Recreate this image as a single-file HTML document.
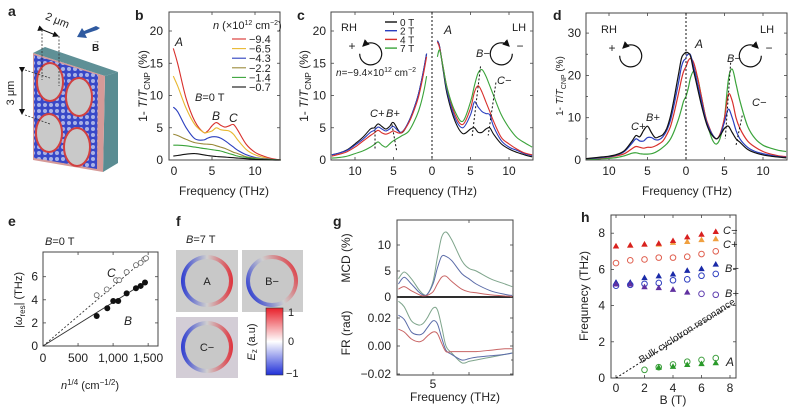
<!DOCTYPE html>
<html><head><meta charset="utf-8"><style>
html,body{margin:0;padding:0;background:#fff}
svg{display:block;font-family:"Liberation Sans",sans-serif}
text{fill:#222}
</style></head><body>
<svg id="fig" width="788" height="407" viewBox="0 0 788 407" xmlns="http://www.w3.org/2000/svg">
<defs>
<pattern id="mesh" width="6" height="6" patternUnits="userSpaceOnUse">
<rect width="6" height="6" fill="#3848c8"/><circle cx="3" cy="3" r="2" fill="#a9b2e6"/>
</pattern>
<linearGradient id="gA" x1="0" x2="1" y1="0" y2="0"><stop offset="0" stop-color="#1a2bd0"/><stop offset="0.5" stop-color="#cfcfcf"/><stop offset="1" stop-color="#e0202a"/></linearGradient>
<linearGradient id="gB" x1="0" x2="1" y1="0.7" y2="0.2"><stop offset="0" stop-color="#1a2bd0"/><stop offset="0.5" stop-color="#cfcfcf"/><stop offset="1" stop-color="#e0202a"/></linearGradient>
<linearGradient id="gCB" x1="0" x2="0" y1="0" y2="1"><stop offset="0" stop-color="#e8202a"/><stop offset="0.5" stop-color="#ffffff"/><stop offset="1" stop-color="#2030d8"/></linearGradient>
<radialGradient id="bgA" cx="0.5" cy="0.5" r="0.6"><stop offset="0.5" stop-color="#c4c4d4"/><stop offset="1" stop-color="#d2cfd2"/></radialGradient>
<marker id="ah" markerWidth="6" markerHeight="6" refX="5" refY="3" orient="auto"><path d="M0,0 L6,3 L0,6 z" fill="#111"/></marker>
</defs>

<!-- panel a -->
<g>
<text x="8" y="16" font-size="14" font-weight="bold">a</text>
<polygon points="33,53 45,47 118,72 105,76" fill="#5f9096"/>
<polygon points="105,76 118,72 118,163 103,172" fill="#5a8c92"/>
<polygon points="33,53 105,76 103,172 33,160" fill="#d59a98"/>
<polygon points="34,55 98,75 97,169 34,158" fill="url(#mesh)"/>
<ellipse cx="50" cy="82" rx="13" ry="19" fill="#c9c9c9" stroke="#d24040" stroke-width="2"/>
<ellipse cx="79" cy="97" rx="13" ry="19" fill="#c9c9c9" stroke="#d24040" stroke-width="2"/>
<ellipse cx="49" cy="133" rx="13" ry="19" fill="#c9c9c9" stroke="#d24040" stroke-width="2"/>
<ellipse cx="77" cy="147" rx="13" ry="19" fill="#c9c9c9" stroke="#d24040" stroke-width="2"/>
<path d="M42,30 L42,80 M59,36 L59,86 M25,70 L50,78 M25,115 L50,124" stroke="#333" stroke-width="0.8" stroke-dasharray="2,1.5" fill="none"/>
<line x1="43" y1="30" x2="58" y2="36" stroke="#111" stroke-width="1" marker-end="url(#ah)" marker-start="url(#ah)"/>
<text x="44" y="22" font-size="11" transform="rotate(22 52 22)">2 μm</text>
<line x1="22" y1="72" x2="22" y2="114" stroke="#111" stroke-width="1" marker-end="url(#ah)" marker-start="url(#ah)"/>
<text x="14" y="93" font-size="11" text-anchor="middle" transform="rotate(-90 14 93)">3 μm</text>
<polygon points="100,28 96,26 84,31 82,28 77,37 87,38 85,34 97,30" fill="#2f5aa0"/>
<text x="92" y="51" font-size="10" font-weight="bold">B</text>
<text x="93" y="43" font-size="7">→</text>
</g>

<!-- panel f -->
<g>
<text x="176" y="226" font-size="14" font-weight="bold">f</text>
<text x="186" y="243" font-size="11"><tspan font-style="italic">B</tspan>=7 T</text>
<rect x="176" y="250" width="62" height="62" fill="#cdcdcd"/>
<circle cx="207" cy="281" r="26" fill="url(#gA)" opacity="0.9"/><circle cx="207" cy="281" r="22" fill="#c8c8c8"/>
<text x="207" y="285" font-size="11" text-anchor="middle">A</text>
<rect x="242" y="250" width="61" height="62" fill="#cdcdcd"/>
<circle cx="272" cy="281" r="26" fill="url(#gB)" opacity="0.9"/><circle cx="272" cy="281" r="22" fill="#c8c8c8"/>
<text x="272" y="285" font-size="11" text-anchor="middle">B−</text>
<rect x="176" y="317" width="62" height="61" fill="#d3cdd6"/>
<circle cx="207" cy="347" r="26" fill="url(#gA)" opacity="0.9"/><circle cx="207" cy="347" r="22" fill="#c8c8c8"/>
<text x="207" y="351" font-size="11" text-anchor="middle">C−</text>
<rect x="266" y="308" width="17" height="67" fill="url(#gCB)" stroke="#333" stroke-width="0.6"/>
<text x="288" y="316" font-size="11">1</text><text x="288" y="345" font-size="11">0</text><text x="286" y="377" font-size="11">−1</text>
<text x="255" y="342" font-size="11" text-anchor="middle" transform="rotate(-90 255 342)"><tspan font-style="italic">E</tspan><tspan font-size="8" dy="2">z</tspan><tspan dy="-2"> (a.u)</tspan></text>
</g>

<g id="plots"></g>
</svg>
<script>
// ---------- data ----------
const bFreq=[0.5,1,2,3,4,4.5,5,5.5,6,6.5,7,7.5,8,9,10,11,12,13];
const bRed=[17.3,15,9.5,6,4.3,4.5,5.3,5.8,5.4,5.1,5.3,5.5,4.6,2.4,1.2,0.6,0.2,0];
const bYellow=[13,11.5,8,5.5,4.3,4.3,4.5,5,4.7,4.6,4.5,4,3.1,1.6,0.8,0.4,0.1,0];
const bBlue=[8.2,7.5,5,3.3,3.1,3.4,3.6,3.6,3.4,3,2.5,2,1.5,0.8,0.4,0.2,0.1,0];
const bOlive=[4,3.8,3.2,2.7,2.5,2.45,2.4,2.2,2,1.8,1.5,1.2,1,0.5,0.3,0.15,0.05,0];
const bGreen=[2.3,2.3,2.2,2,1.8,1.7,1.6,1.5,1.4,1.2,1,0.8,0.6,0.4,0.2,0.1,0.05,0];
const bBlack=[0.6,0.7,0.9,1,0.8,0.7,0.6,0.55,0.5,0.45,0.4,0.35,0.3,0.2,0.1,0.05,0,0];
const bLegend=["−9.4","−6.5","−4.3","−2.2","−1.4","−0.7"];

const cFreq=[0.7,1,1.5,2,3,4,5,5.5,6,6.5,7,7.5,8,9,10,11,12,13];
const cBlackL=[16.5,14.5,11.5,9.2,6,4.2,5.8,5.2,4.8,5.2,5.6,5,4.8,3.5,2.5,1.6,1.1,0.8];
const cBlueL=[16.5,14.5,11.5,9.2,6,4.3,5.2,4.8,4.5,4.8,5.1,4.6,4.3,3.2,2.3,1.5,1.1,0.8];
const cRedL=[16,14,11,8.8,5.8,4.2,4.5,4.2,4,4.2,4.6,4.2,3.8,2.9,2,1.3,0.9,0.6];
const cGreenL=[13,11,8.5,6.8,4.5,3.7,3,2.5,2,2.3,2.8,2.4,2,1.4,1,0.6,0.4,0.3];
const cBlackR=[18.5,17.5,13.5,10,6,4.1,4.8,5,4.3,4.3,4.8,5,4,2.5,1.7,1.2,0.8,0.5];
const cBlueR=[18.5,17.5,13.8,10.5,6.5,5,7,9,8.2,7.5,7.2,7,5.2,3,2,1.5,1,0.7];
const cRedR=[18.3,17.3,14,11,7,5.5,8,10.5,11.5,10.5,9,7.5,6,3.5,2.5,1.7,1.1,0.8];
const cGreenR=[16,17,14,11,7.5,6,9,11.5,13.5,14,13,11.5,10,7,5,3.5,2.7,2];
const cLegend=["0 T","2 T","4 T","7 T"];

const dFreq=[0,0.3,0.6,1,1.5,2,2.5,3,3.5,4,4.5,5,5.5,6,6.5,7,8,9,10,11,12,13];
const dBlackR=[25.5,25.3,24.5,21,17,13,9.5,7,5.6,5,6,7.5,8,6.5,5,4.2,2.5,1.7,1.2,0.9,0.7,0.5];
const dBlackL=[25.5,25,24,20,15,10.5,7.5,6,5.5,5.3,6.5,8,7,5.5,5.8,4.5,2.2,1.3,0.9,0.7,0.5,0.3];
const dBlueR=[24.5,25,24.8,22,18,14,10,7.5,5.8,5,6.2,9,12,10,7,5,3,2,1.5,1.1,0.8,0.6];
const dBlueL=[24,23.5,22,18,13.5,9.5,7,5.5,4.8,4.8,5.3,5.3,4.5,4.5,5,4,2,1.2,0.8,0.6,0.4,0.3];
const dRedR=[22,23.5,24,23,19.5,15,10.5,7.8,5.8,5,6.5,10,15.5,14,10,7.5,4.5,3,2,1.4,1,0.8];
const dRedL=[22,21,19,15.5,11.5,8,6,4.5,3.8,3.3,3,3,2.8,3,3.2,2.7,1.5,1,0.7,0.5,0.4,0.3];
const dGreenR=[15,17,19.5,21,19.5,15,10.5,7,4.5,3.8,5.5,10,19,21.5,18,14,8,5,3.5,2.8,2.3,2];
const dGreenL=[15,14,12,9.5,7,5,3.8,3,2.3,1.8,1.5,1.4,1.4,1.5,1.7,1.6,1,0.6,0.4,0.3,0.2,0.2];

const eBx=[766,917,1002,1073,1193,1326,1393,1455];
const eBy=[2.6,3.27,3.9,3.9,4.56,5.0,5.2,5.5];
const eCx=[766,909,1041,1088,1193,1326,1393,1445,1469];
const eCy=[4.4,4.9,5.7,5.7,6.4,7.0,7.2,7.5,7.6];
const eXTicks=[0,500,1000,1500];
const eXLabels=["0","500","1,000","1,500"];
const eYTicks=[0,2,4,6];

const gFreq=[2.6,3,3.5,4,4.3,4.6,5,5.3,5.6,5.9,6.3,7,7.5,8,9,10,10.5];
const gMcdGreen=[3.5,4.8,3.5,1.5,0.6,0.5,3,7.5,11.5,12.5,11,7,5.5,5,3.5,2.5,2];
const gMcdBlue=[2.5,3.8,2.5,1,0.4,0.5,2.5,5.5,7.8,7.8,7,4.5,3.5,2.5,1.2,0.5,0.3];
const gMcdRed=[1.5,2,1.2,0.5,0.2,0.3,1,2.5,3.8,4,3,1.5,1,0.8,0.4,0.2,0.1];
const gFrGreen=[0.032,0.028,0.018,0.015,0.016,0.020,0.027,0.026,0.014,0.000,-0.005,-0.012,-0.011,-0.010,-0.008,-0.006,-0.005];
const gFrBlue=[0.022,0.019,0.010,0.008,0.009,0.013,0.018,0.016,0.006,-0.003,-0.006,-0.010,-0.009,-0.008,-0.007,-0.006,-0.005];
const gFrRed=[0.012,0.010,0.005,0.003,0.004,0.007,0.010,0.009,0.002,-0.004,-0.004,-0.004,-0.004,-0.004,-0.003,-0.002,-0.002];

const hB=[0,1,2,3,4,5,6,7];
const hCminus=[7.3,7.35,7.4,7.45,7.6,7.8,7.95,8.1];
const hCplus=[7.3,7.35,7.4,7.4,7.5,7.55,7.65,7.7];
const hRedOpen=[6.35,6.5,6.55,6.65,6.65,6.7,6.85,7.0];
const hBminus=[5.3,5.3,5.55,5.65,5.75,5.95,6.05,6.3];
const hBplus=[5.1,5.15,5.2,5.25,5.4,5.45,5.65,5.75];
const hPurpleB=[0,1,2,3,4,5];
const hPurpleTri=[5.2,5.2,5.05,5.0,4.9,4.75];
const hPurpleOpenB=[6,7];
const hPurpleOpen=[4.65,4.6];
const hAopenB=[2,3,4,5,6,7];
const hAopen=[0.45,0.6,0.75,0.9,1.0,1.1];
const hAtriB=[3,4,5,6,7];
const hAtri=[0.6,0.65,0.75,0.8,0.85];

// ---------- helpers ----------
const NS="http://www.w3.org/2000/svg";
const root=document.getElementById('plots');
function el(tag,attrs,parent){const e=document.createElementNS(NS,tag);for(const k in attrs)e.setAttribute(k,attrs[k]);(parent||root).appendChild(e);return e;}
function smooth(pts){let d="M"+pts[0][0].toFixed(1)+","+pts[0][1].toFixed(1);
 for(let i=0;i<pts.length-1;i++){const p0=pts[i-1]||pts[i],p1=pts[i],p2=pts[i+1],p3=pts[i+2]||p2;
  const c1=[p1[0]+(p2[0]-p0[0])/6,p1[1]+(p2[1]-p0[1])/6],c2=[p2[0]-(p3[0]-p1[0])/6,p2[1]-(p3[1]-p1[1])/6];
  d+="C"+c1[0].toFixed(1)+","+c1[1].toFixed(1)+" "+c2[0].toFixed(1)+","+c2[1].toFixed(1)+" "+p2[0].toFixed(1)+","+p2[1].toFixed(1);}
 return d;}
function curve(xs,ys,sx,sy,color,name,w){
 const p=el('path',{d:smooth(xs.map((x,i)=>[sx(x),sy(ys[i])])),fill:'none',stroke:color,'stroke-width':w||1.1,'stroke-linejoin':'round'});
 
 
 return p;}
function txt(x,y,s,size,name,opt){const t=el('text',Object.assign({x:x,y:y,'font-size':size||11},opt||{}));t.textContent=s;
 
 
 return t;}
function ytitle(x,y,size,name){const t=el('text',{x:x,y:y,'font-size':size,'text-anchor':'middle',transform:`rotate(-90 ${x} ${y})`});
 
 
 t.innerHTML='1- <tspan font-style="italic">T</tspan>/<tspan font-style="italic">T</tspan><tspan font-size="'+(size*0.7)+'" dy="3">CNP</tspan><tspan dy="-3"> (%)</tspan>';}
function box(x0,y0,x1,y1,name){const r=el('rect',{x:x0,y:y0,width:x1-x0,height:y1-y0,fill:'none',stroke:'#444','stroke-width':1});
 
 
 return r;}
function tick(x1,y1,x2,y2){el('line',{x1:x1,y1:y1,x2:x2,y2:y2,stroke:'#444','stroke-width':0.8});}
function circArrow(cx,cy,sign,name){const g=el('g',{});
 
 
 const r=11;
 const d=sign>0?`M${cx+r*0.7},${cy+r*0.7} A${r},${r} 0 1 0 ${cx+r},${cy}`:`M${cx-r*0.7},${cy+r*0.7} A${r},${r} 0 1 1 ${cx-r},${cy}`;
 el('path',{d:d,fill:'none',stroke:'#111','stroke-width':1.2,'marker-end':'url(#ah)'},g);
 const t=el('text',{x:cx,y:cy+4,'font-size':12,'text-anchor':'middle'},g);t.textContent=sign>0?'+':'−';}
function dotted(x1,y1,x2,y2,name){const l=el('line',{x1:x1,y1:y1,x2:x2,y2:y2,stroke:'#111','stroke-width':1,'stroke-dasharray':'2,2'});
 
 }

// ---------- panel b ----------
const bx=f=>169+f*8.6, by=v=>160-v*6.45;
txt(135,20,'b',14,'panel-label-b',{'font-weight':'bold'});
box(169,12,280,160,'plot-area-b');
[0,5,10,15,20].forEach(v=>{tick(169,by(v),172,by(v));tick(280,by(v),277,by(v));txt(163,by(v)+4,String(v),12,'b-y-tick-label',{'text-anchor':'end'});});
[5,10].forEach(v=>{tick(bx(v),160,bx(v),157);tick(bx(v),12,bx(v),15);});
[0,5,10].forEach(v=>txt(Math.max(bx(v),174),175,String(v),12,'b-x-tick-label',{'text-anchor':'middle'}));
txt(224,195,'Frequency (THz)',12,'b-x-axis-title',{'text-anchor':'middle'});
ytitle(147,86,12,'b-y-axis-title');
const bCols=['#d8302c','#e8b830','#2b3fbf','#9a8a3a','#3aa33a','#111'];
[bRed,bYellow,bBlue,bOlive,bGreen,bBlack].forEach((s,i)=>curve(bFreq,s,bx,by,bCols[i],'b-series-'+bLegend[i]));
{const t=txt(213,29,'',11,'b-legend-title');t.innerHTML='<tspan font-style="italic">n</tspan> (×10<tspan font-size="7" dy="-4">12</tspan><tspan dy="4"> cm</tspan><tspan font-size="7" dy="-4">−2</tspan><tspan dy="4">)</tspan>';}
bLegend.forEach((l,i)=>{const y=42+i*9.6;const ln=el('line',{x1:232,y1:y-3,x2:246,y2:y-3,stroke:bCols[i],'stroke-width':1.1});
 
 
 txt(249,y+1,l,11,'b-legend-entry');});
txt(175,46,'A',12,'b-peak-a',{'font-style':'italic'});
{const t=txt(195,101,'',11,'b-field-note');t.innerHTML='<tspan font-style="italic">B</tspan>=0 T';}
txt(212,120,'B',12,'b-peak-b',{'font-style':'italic'});
txt(229,122,'C',12,'b-peak-c',{'font-style':'italic'});

// ---------- panel c ----------
const cx=f=>432+f*7.7, cy=v=>160-v*6.45;
txt(297,20,'c',14,'panel-label-c',{'font-weight':'bold'});
box(331,12,533,160,'plot-area-c');
[0,5,10,15,20].forEach(v=>{tick(331,cy(v),334,cy(v));tick(533,cy(v),530,cy(v));txt(326,cy(v)+4,String(v),12,'c-y-tick-label',{'text-anchor':'end'});});
[-10,-5,0,5,10].forEach(v=>{tick(cx(v),160,cx(v),157);tick(cx(v),12,cx(v),15);txt(cx(v),175,String(Math.abs(v)),12,'c-x-tick-label',{'text-anchor':'middle'});});
txt(432,195,'Frequency (THz)',12,'c-x-axis-title',{'text-anchor':'middle'});
ytitle(308,86,12,'c-y-axis-title');
const cCols=['#111','#2b3fbf','#d8302c','#3aa33a'];
const neg=a=>a.map(v=>-v);
[[cBlackL,cBlackR],[cBlueL,cBlueR],[cRedL,cRedR],[cGreenL,cGreenR]].forEach((s,i)=>{
 curve(neg(cFreq),s[0],cx,cy,cCols[i],'c-rh-series-'+cLegend[i]);
 curve(cFreq,s[1],cx,cy,cCols[i],'c-lh-series-'+cLegend[i]);});
dotted(cx(0),12,cx(0),160,'c-zero-line');
dotted(cx(6.3),cy(14.5),cx(5.2),cy(3.5),'c-b-minus-guide');
dotted(cx(8.3),cy(12),cx(7.3),cy(3.8),'c-c-minus-guide');
dotted(cx(-7.4),cy(5.2),cx(-7.4),cy(1.5),'c-c-plus-guide');
dotted(cx(-5.2),cy(5.5),cx(-4.6),cy(1.5),'c-b-plus-guide');
cLegend.forEach((l,i)=>{const y=25+i*8.7;const ln=el('line',{x1:385,y1:y-3,x2:397,y2:y-3,stroke:cCols[i],'stroke-width':1.4});
 
 
 txt(400,y+1,l,10,'c-legend-entry');});
txt(341,31,'RH',11,'c-rh-label');circArrow(352,46,1,'c-rh-icon');
txt(512,31,'LH',11,'c-lh-label');circArrow(520,46,-1,'c-lh-icon');
{const t=txt(336,76,'',10,'c-density-note');t.innerHTML='<tspan font-style="italic">n</tspan>=−9.4×10<tspan font-size="7" dy="-4">12</tspan><tspan dy="4"> cm</tspan><tspan font-size="7" dy="-4">−2</tspan>';}
txt(444,34,'A',12,'c-peak-a',{'font-style':'italic'});
txt(476,57,'B−',11,'c-peak-b-minus',{'font-style':'italic'});
txt(497,84,'C−',11,'c-peak-c-minus',{'font-style':'italic'});
txt(370,117,'C+',11,'c-peak-c-plus',{'font-style':'italic'});
txt(386,117,'B+',11,'c-peak-b-plus',{'font-style':'italic'});

// ---------- panel d ----------
const dx=f=>686+f*7.7, dy=v=>160-v*4.23;
txt(553,20,'d',14,'panel-label-d',{'font-weight':'bold'});
box(586,13,787,160,'plot-area-d');
[0,10,20,30].forEach(v=>{tick(586,dy(v),589,dy(v));tick(787,dy(v),784,dy(v));txt(581,dy(v)+4,String(v),12,'d-y-tick-label',{'text-anchor':'end'});});
[5,15,25].forEach(v=>{tick(586,dy(v),588,dy(v));tick(787,dy(v),785,dy(v));});
[-10,-5,0,5,10].forEach(v=>{tick(dx(v),160,dx(v),157);tick(dx(v),13,dx(v),16);txt(dx(v),175,String(Math.abs(v)),12,'d-x-tick-label',{'text-anchor':'middle'});});
txt(687,195,'Frequency (THz)',12,'d-x-axis-title',{'text-anchor':'middle'});
ytitle(563,86,10,'d-y-axis-title');
[[dGreenL,dGreenR],[dRedL,dRedR],[dBlueL,dBlueR],[dBlackL,dBlackR]].forEach((s,i)=>{
 const col=['#3aa33a','#d8302c','#2b3fbf','#111'][i];
 curve(neg(dFreq),s[0],dx,dy,col,'d-rh-series-'+i,1.2);
 curve(dFreq,s[1],dx,dy,col,'d-lh-series-'+i,1.2);});
dotted(dx(0),13,dx(0),160,'d-zero-line');
dotted(dx(5.8),dy(23),dx(5.1),dy(5),'d-b-minus-guide');
dotted(dx(7.3),dy(10.5),dx(6.5),dy(3.5),'d-c-minus-guide');
txt(601,33,'RH',11,'d-rh-label');circArrow(612,48,1,'d-rh-icon');
txt(760,33,'LH',11,'d-lh-label');circArrow(769,48,-1,'d-lh-icon');
txt(695,48,'A',12,'d-peak-a',{'font-style':'italic'});
txt(727,62,'B−',11,'d-peak-b-minus',{'font-style':'italic'});
txt(752,106,'C−',11,'d-peak-c-minus',{'font-style':'italic'});
txt(631,130,'C+',11,'d-peak-c-plus',{'font-style':'italic'});
txt(646,121,'B+',11,'d-peak-b-plus',{'font-style':'italic'});

// ---------- panel e ----------
const ex=v=>43+v*0.0701, ey=v=>346-v*11.55;
txt(8,226,'e',14,'panel-label-e',{'font-weight':'bold'});
{const t=txt(45,245,'',11,'e-field-note');t.innerHTML='<tspan font-style="italic">B</tspan>=0 T';}
box(43,252,158,346,'plot-area-e');
eYTicks.forEach(v=>{tick(43,ey(v),46,ey(v));tick(158,ey(v),155,ey(v));txt(38,ey(v)+4,String(v),12,'e-y-tick-label',{'text-anchor':'end'});});
eXTicks.forEach((v,i)=>{tick(ex(v),346,ex(v),343);tick(ex(v),252,ex(v),255);txt(ex(v),362,eXLabels[i],12,'e-x-tick-label',{'text-anchor':'middle'});});
{const t=txt(90,389,'',11,'e-x-axis-title',{'text-anchor':'middle'});t.innerHTML='<tspan font-style="italic">n</tspan><tspan font-size="8" dy="-4">1/4</tspan><tspan dy="4"> (cm</tspan><tspan font-size="8" dy="-4">−1/2</tspan><tspan dy="4">)</tspan>';}
{const t=txt(22,300,'',11,'e-y-axis-title',{'text-anchor':'middle',transform:'rotate(-90 22 300)'});t.innerHTML='|<tspan font-style="italic">ω</tspan><tspan font-size="8" dy="3">res</tspan><tspan dy="-3">| (THz)</tspan>';}
{const l=el('line',{x1:ex(0),y1:ey(0),x2:ex(eBx[eBx.length-1]),y2:ey(eBy[eBy.length-1]),stroke:'#333','stroke-width':0.9});
 
 
 const l2=el('line',{x1:ex(0),y1:ey(0),x2:ex(eCx[eCx.length-1]),y2:ey(eCy[eCy.length-1]),stroke:'#333','stroke-width':0.9,'stroke-dasharray':'2,2'});
 
 }
eBx.forEach((x,i)=>{const c=el('circle',{cx:ex(x),cy:ey(eBy[i]),r:3,fill:'#111'});
 
 });
eCx.forEach((x,i)=>{const c=el('circle',{cx:ex(x),cy:ey(eCy[i]),r:2.5,fill:'#fff',stroke:'#666','stroke-width':0.8});
 
 });
txt(107,277,'C',12,'e-label-c',{'font-style':'italic'});
txt(124,325,'B',12,'e-label-b',{'font-style':'italic'});

// ---------- panel g ----------
const gx=f=>433+(f-5)*14.4, gyM=v=>297-v*5.2, gyF=v=>346-v*1400;
txt(333,226,'g',14,'panel-label-g',{'font-weight':'bold'});
box(397,220,513,375,'plot-area-g');
{const l=el('line',{x1:397,y1:297,x2:513,y2:297,stroke:'#111','stroke-width':1.8});
 
 }
[0,5,10].forEach(v=>{tick(397,gyM(v),400,gyM(v));tick(513,gyM(v),510,gyM(v));txt(391,gyM(v)+4,String(v),12,'g-mcd-tick-label',{'text-anchor':'end'});});
[0.02,0,-0.02].forEach(v=>{tick(397,gyF(v),400,gyF(v));tick(513,gyF(v),510,gyF(v));txt(391,gyF(v)+4,v.toFixed(2).replace('-','−'),12,'g-fr-tick-label',{'text-anchor':'end'});});
[0.01,-0.01].forEach(v=>{tick(513,gyF(v),511,gyF(v));});
[5].forEach(v=>{tick(gx(v),375,gx(v),372);txt(gx(v),388,String(v),12,'g-x-tick-label',{'text-anchor':'middle'});});
[7.5].forEach(v=>{tick(gx(v),375,gx(v),372);tick(gx(v),220,gx(v),223);});
txt(455,401,'Frequency (THz)',12,'g-x-axis-title',{'text-anchor':'middle'});
txt(350,258,'MCD (%)',12,'g-mcd-axis-title',{'text-anchor':'middle',transform:'rotate(-90 350 258)'});
txt(350,333,'FR (rad)',12,'g-fr-axis-title',{'text-anchor':'middle',transform:'rotate(-90 350 333)'});
curve(gFreq,gMcdGreen,gx,gyM,'#7fa58c','g-mcd-7t',1);
curve(gFreq,gMcdBlue,gx,gyM,'#5b6ca8','g-mcd-4t',1);
curve(gFreq,gMcdRed,gx,gyM,'#c86464','g-mcd-2t',1);
curve(gFreq,gFrGreen,gx,gyF,'#7fa58c','g-fr-7t',1);
curve(gFreq,gFrBlue,gx,gyF,'#5b6ca8','g-fr-4t',1);
curve(gFreq,gFrRed,gx,gyF,'#c86464','g-fr-2t',1);

// ---------- panel h ----------
const hx=b=>616+b*14.25, hy=f=>378-f*18.1;
txt(581,222,'h',14,'panel-label-h',{'font-weight':'bold'});
box(611,215,736,378,'plot-area-h');
[0,2,4,6,8].forEach(v=>{tick(611,hy(v),614,hy(v));tick(736,hy(v),733,hy(v));txt(605,hy(v)+4,String(v),12,'h-y-tick-label',{'text-anchor':'end'});
 tick(hx(v),378,hx(v),375);tick(hx(v),215,hx(v),218);txt(hx(v),392,String(v),12,'h-x-tick-label',{'text-anchor':'middle'});});
txt(673,404,'B (T)',12,'h-x-axis-title',{'text-anchor':'middle'});
txt(588,296,'Frequnecy (THz)',12,'h-y-axis-title',{'text-anchor':'middle',transform:'rotate(-90 588 296)'});
{const l=el('line',{x1:hx(0),y1:hy(0),x2:hx(8),y2:hy(4),stroke:'#111','stroke-width':1,'stroke-dasharray':'2,2'});
 
 }
txt(650,358,'Bulk cyclotron resonance',10,'h-bulk-cr-label',{transform:'rotate(-32.4 650 358)',dx:-10});
function tri(b,f,col,name){const X=hx(b),Y=hy(f);const t=el('polygon',{points:`${X-3.2},${Y+2.6} ${X+3.2},${Y+2.6} ${X},${Y-3}`,fill:col});
 
 }
function ring(b,f,col,name){const c=el('circle',{cx:hx(b),cy:hy(f),r:2.8,fill:'none',stroke:col,'stroke-width':1});
 
 }
hB.forEach((b,i)=>tri(b,hCplus[i],'#f0a040','h-c-plus'));
hB.forEach((b,i)=>tri(b,hCminus[i],'#d82020','h-c-minus'));
hB.forEach((b,i)=>ring(b,hRedOpen[i],'#e06050','h-red-open'));
hB.forEach((b,i)=>tri(b,hBminus[i],'#1a2aa8','h-b-minus'));
hB.forEach((b,i)=>ring(b,hBplus[i],'#3040c0','h-b-plus'));
hPurpleB.forEach((b,i)=>tri(b,hPurpleTri[i],'#6030a0','h-purple-tri'));
hPurpleOpenB.forEach((b,i)=>ring(b,hPurpleOpen[i],'#6040b0','h-purple-open'));
hAopenB.forEach((b,i)=>ring(b,hAopen[i],'#40a040','h-a-open'));
hAtriB.forEach((b,i)=>tri(b,hAtri[i],'#2a9a2a','h-a-tri'));
txt(723,234,'C−',11,'h-label-c-minus',{'font-style':'italic'});
txt(723,248,'C+',11,'h-label-c-plus',{'font-style':'italic'});
txt(725,272,'B−',11,'h-label-b-minus',{'font-style':'italic'});
txt(725,297,'B+',11,'h-label-b-plus',{'font-style':'italic'});
txt(726,366,'A',12,'h-label-a',{'font-style':'italic'});
</script>
</body></html>
